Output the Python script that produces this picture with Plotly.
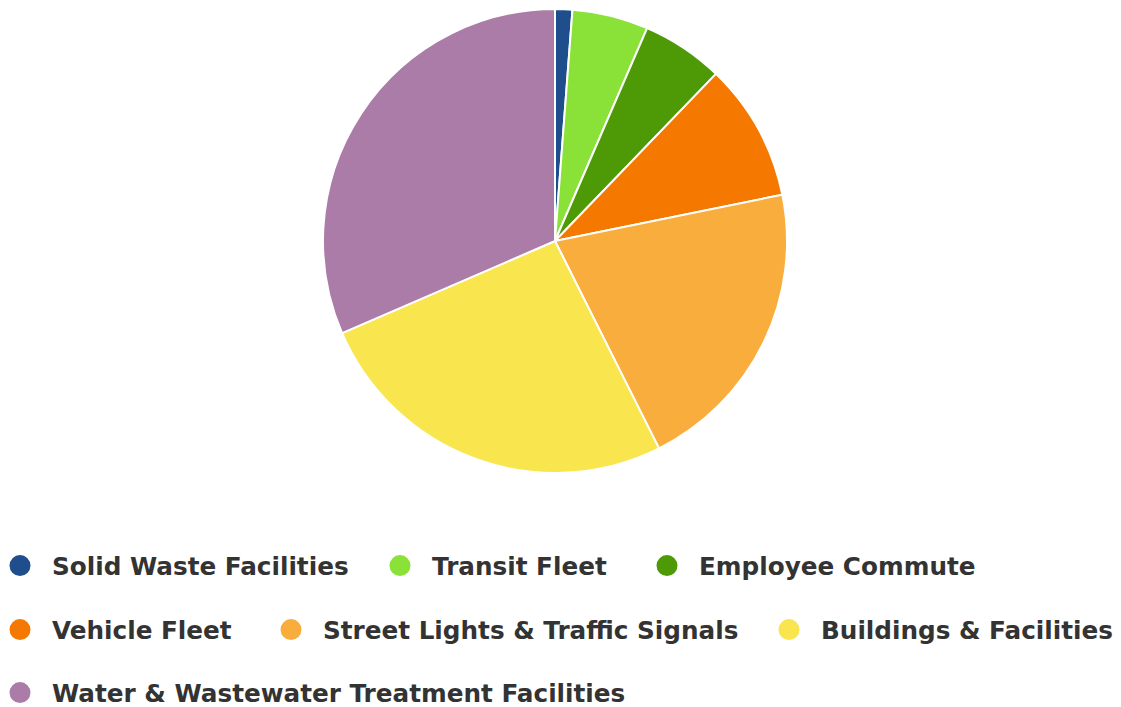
import plotly.graph_objects as go

categories = ["Solid Waste Facilities", "Transit Fleet", "Employee Commute",
              "Vehicle Fleet", "Street Lights & Traffic Signals",
              "Buildings & Facilities", "Water & Wastewater Treatment Facilities"]
values = [1.2, 5.3, 5.7, 9.6, 20.8, 25.9, 31.5]
colors = ["#1f4e8c", "#8ae238", "#4e9a06", "#f57900", "#f9ad3c", "#f9e54e", "#ac7ca8"]

W, H = 1121, 707
# legend symbol centre positions (px) for each entry
leg_pos = [(20, 566), (400, 566), (667, 566),
           (20, 630), (291, 630), (789, 630),
           (20, 693)]

fig = go.Figure()
fig.add_trace(go.Pie(
    labels=categories, values=values, sort=False, direction="clockwise",
    rotation=0, textinfo="none", showlegend=False,
    marker=dict(colors=colors, line=dict(color="white", width=2)),
    domain=dict(x=[(555 - 232) / W, (555 + 232) / W], y=[1 - 473 / H, 1 - 9 / H]),
))

layout_legends = {}
for i, (name, col) in enumerate(zip(categories, colors)):
    key = "legend" if i == 0 else f"legend{i + 1}"
    fig.add_trace(go.Scatter(
        x=[None], y=[None], mode="markers", name=name, legend=key,
        marker=dict(symbol="circle", size=16, color=col, line=dict(color=col, width=5)),
    ))
    px, py = leg_pos[i]
    layout_legends[key] = dict(
        xref="paper", yref="paper",
        x=(px - 32) / W, y=1 - py / H, xanchor="left", yanchor="middle",
        orientation="h", bgcolor="rgba(0,0,0,0)", itemwidth=54,
        font=dict(family="DejaVu Sans", size=24.7, color="#333333", weight="bold"),
    )

fig.update_layout(
    width=W, height=H, margin=dict(l=0, r=0, t=0, b=0, autoexpand=False),
    paper_bgcolor="white", plot_bgcolor="white",
    xaxis=dict(visible=False), yaxis=dict(visible=False),
    font=dict(family="DejaVu Sans"),
    **layout_legends,
)

fig.write_html("out.html")
